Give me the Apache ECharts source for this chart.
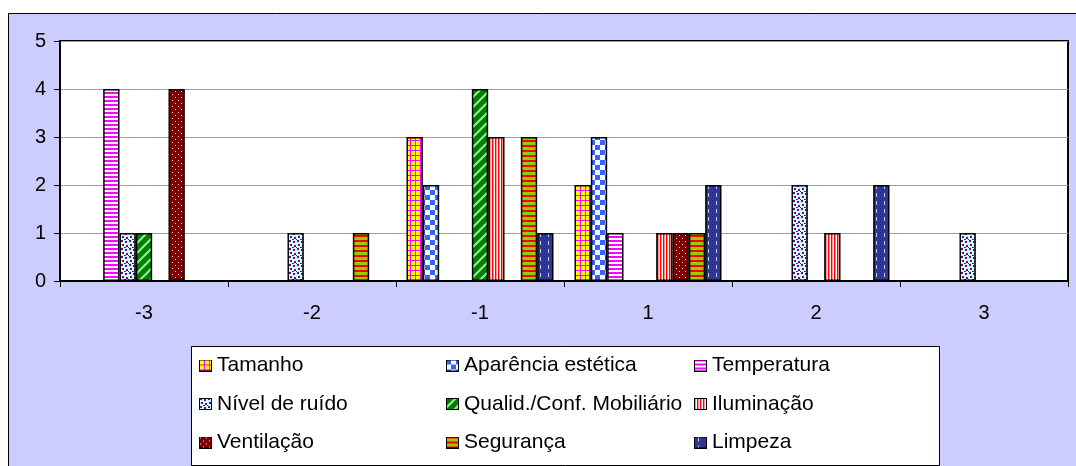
<!DOCTYPE html>
<html>
<head>
<meta charset="utf-8">
<script src="https://cdn.jsdelivr.net/npm/echarts@6/dist/echarts.min.js"></script>
<style>
  html, body { margin: 0; padding: 0; background: #fff; }
  #chart { width: 1076px; height: 466px; }
</style>
</head>
<body>
<div id="chart"></div>
<script>
// categorias do eixo x
var categorias = ['-3', '-2', '-1', '1', '2', '3'];
var yTicks = [0, 1, 2, 3, 4, 5];

var seriesNames = ['Tamanho', 'Aparência estética', 'Temperatura', 'Nível de ruído',
  'Qualid./Conf. Mobiliário', 'Iluminação', 'Ventilação', 'Segurança', 'Limpeza'];

var tamanho     = [0, 0, 3, 2, 0, 0];
var aparencia   = [0, 0, 2, 3, 0, 0];
var temperatura = [4, 0, 0, 1, 0, 0];
var ruido       = [1, 1, 0, 0, 2, 1];
var mobiliario  = [1, 0, 4, 0, 0, 0];
var iluminacao  = [0, 0, 3, 1, 1, 0];
var ventilacao  = [4, 0, 0, 1, 0, 0];
var seguranca   = [0, 1, 3, 1, 0, 0];
var limpeza     = [0, 0, 1, 2, 2, 0];

var seriesData = [tamanho, aparencia, temperatura, ruido, mobiliario,
  iluminacao, ventilacao, seguranca, limpeza];

// padroes estilo excel
function tile(w, h, draw) {
  var c = document.createElement('canvas');
  c.width = w; c.height = h;
  var g = c.getContext('2d');
  draw(g);
  return c;
}

var patterns = [
  // Tamanho
  tile(5, 5, function (g) {
    g.fillStyle = '#FFFF00'; g.fillRect(0, 0, 5, 5);
    g.fillStyle = '#FF00FF'; g.fillRect(0, 0, 5, 1); g.fillRect(0, 0, 1, 5);
  }),
  // Aparência estética
  tile(10, 10, function (g) {
    g.fillStyle = '#FFFFFF'; g.fillRect(0, 0, 10, 10);
    g.fillStyle = '#3366FF'; g.fillRect(0, 0, 5, 5); g.fillRect(5, 5, 5, 5);
  }),
  // Temperatura
  tile(4, 4, function (g) {
    g.fillStyle = '#FFFFFF'; g.fillRect(0, 0, 4, 4);
    g.fillStyle = '#FF00FF'; g.fillRect(0, 0, 4, 2);
  }),
  // Nível de ruído
  tile(8, 8, function (g) {
    g.fillStyle = '#CCFFFF'; g.fillRect(0, 0, 8, 8);
    g.fillStyle = '#800080';
    g.fillRect(1, 0, 2, 2); g.fillRect(5, 1, 2, 2); g.fillRect(2, 4, 2, 2);
    g.fillRect(6, 5, 2, 2); g.fillRect(0, 7, 1, 1); g.fillRect(4, 7, 2, 1);
  }),
  // Qualid./Conf. Mobiliário
  tile(10, 10, function (g) {
    g.fillStyle = '#008000'; g.fillRect(0, 0, 10, 10);
    g.strokeStyle = '#99EE99'; g.lineWidth = 2;
    g.beginPath();
    g.moveTo(-2, 12); g.lineTo(12, -2);
    g.moveTo(-2, 2); g.lineTo(2, -2);
    g.moveTo(8, 12); g.lineTo(12, 8);
    g.stroke();
  }),
  // Iluminação
  tile(3, 1, function (g) {
    g.fillStyle = '#FFFFFF'; g.fillRect(0, 0, 3, 1);
    g.fillStyle = '#FF0000'; g.fillRect(0, 0, 1, 1);
    g.fillStyle = '#FF9090'; g.fillRect(1, 0, 1, 1);
  }),
  // Ventilação
  tile(6, 6, function (g) {
    g.fillStyle = '#800000'; g.fillRect(0, 0, 6, 6);
    g.fillStyle = '#FFDDDD'; g.fillRect(1, 1, 1, 1); g.fillRect(4, 4, 1, 1);
  }),
  // Segurança
  tile(1, 5, function (g) {
    g.fillStyle = '#99CC00'; g.fillRect(0, 0, 1, 5);
    g.fillStyle = '#FF0000'; g.fillRect(0, 0, 1, 2);
  }),
  // Limpeza
  tile(8, 8, function (g) {
    g.fillStyle = '#333399'; g.fillRect(0, 0, 8, 8);
    g.fillStyle = '#AADDCC'; g.fillRect(4, 1, 1, 4);
  })
];

function legendIcon(p) {
  var c = tile(13, 12, function (g) {
    g.fillStyle = g.createPattern(p, 'repeat');
    g.fillRect(0, 0, 13, 12);
    g.strokeStyle = '#000'; g.lineWidth = 1;
    g.strokeRect(0.5, 0.5, 12, 11);
  });
  return 'image://' + c.toDataURL();
}

var series = seriesNames.map(function (name, i) {
  return {
    name: name,
    type: 'bar',
    data: seriesData[i],
    barGap: '0%',
    barCategoryGap: '12.5%',
    itemStyle: {
      color: { image: patterns[i], repeat: 'repeat' },
      borderColor: '#000',
      borderWidth: 1.5
    },
    emphasis: { disabled: true }
  };
});

var legendCommon = {
  orient: 'vertical',
  align: 'left',
  top: 355,
  padding: 0,
  itemWidth: 13,
  itemHeight: 12,
  itemGap: 17.5,
  itemTextGap: 7,
  selectedMode: false,
  textStyle: { fontFamily: 'Liberation Sans, Arial', fontSize: 21, color: '#000', lineHeight: 20 }
};

function makeLegend(left, idx) {
  return Object.assign({}, legendCommon, {
    left: left,
    data: idx.map(function (i) {
      return { name: seriesNames[i], icon: legendIcon(patterns[i]) };
    })
  });
}

var chart = echarts.init(document.getElementById('chart'));
chart.setOption({
  animation: false,
  backgroundColor: '#FFFFFF',
  textStyle: { fontFamily: 'Liberation Sans, Arial' },
  graphic: [
    {
      type: 'rect', z: -10, silent: true,
      shape: { x: 8.5, y: 13.5, width: 1200, height: 600 },
      style: { fill: '#CCCCFF', stroke: '#000', lineWidth: 1 }
    },
    {
      type: 'rect', z: -5, silent: true,
      shape: { x: 191.5, y: 346.5, width: 748, height: 119 },
      style: { fill: '#FFFFFF', stroke: '#000', lineWidth: 1 }
    }
  ],
  legend: [
    makeLegend(199, [0, 3, 6]),
    makeLegend(446, [1, 4, 7]),
    makeLegend(694, [2, 5, 8])
  ],
  grid: {
    left: 60, top: 41, right: 8, bottom: 185,
    show: true,
    backgroundColor: '#FFFFFF',
    borderColor: '#000',
    borderWidth: 2
  },
  xAxis: {
    type: 'category',
    data: categorias,
    axisLine: { lineStyle: { color: '#000', width: 2 } },
    axisTick: { show: true, length: 6, lineStyle: { color: '#000', width: 1 } },
    axisLabel: { color: '#000', fontSize: 20, margin: 22 }
  },
  yAxis: {
    type: 'value',
    min: yTicks[0],
    max: yTicks[yTicks.length - 1],
    interval: 1,
    axisLine: { show: true, lineStyle: { color: '#000', width: 2 } },
    axisTick: { show: true, length: 6, lineStyle: { color: '#000', width: 1 } },
    axisLabel: { color: '#000', fontSize: 20, margin: 14 },
    splitLine: { lineStyle: { color: '#A0A0A0', width: 1 } }
  },
  series: series
});
</script>
</body>
</html>
